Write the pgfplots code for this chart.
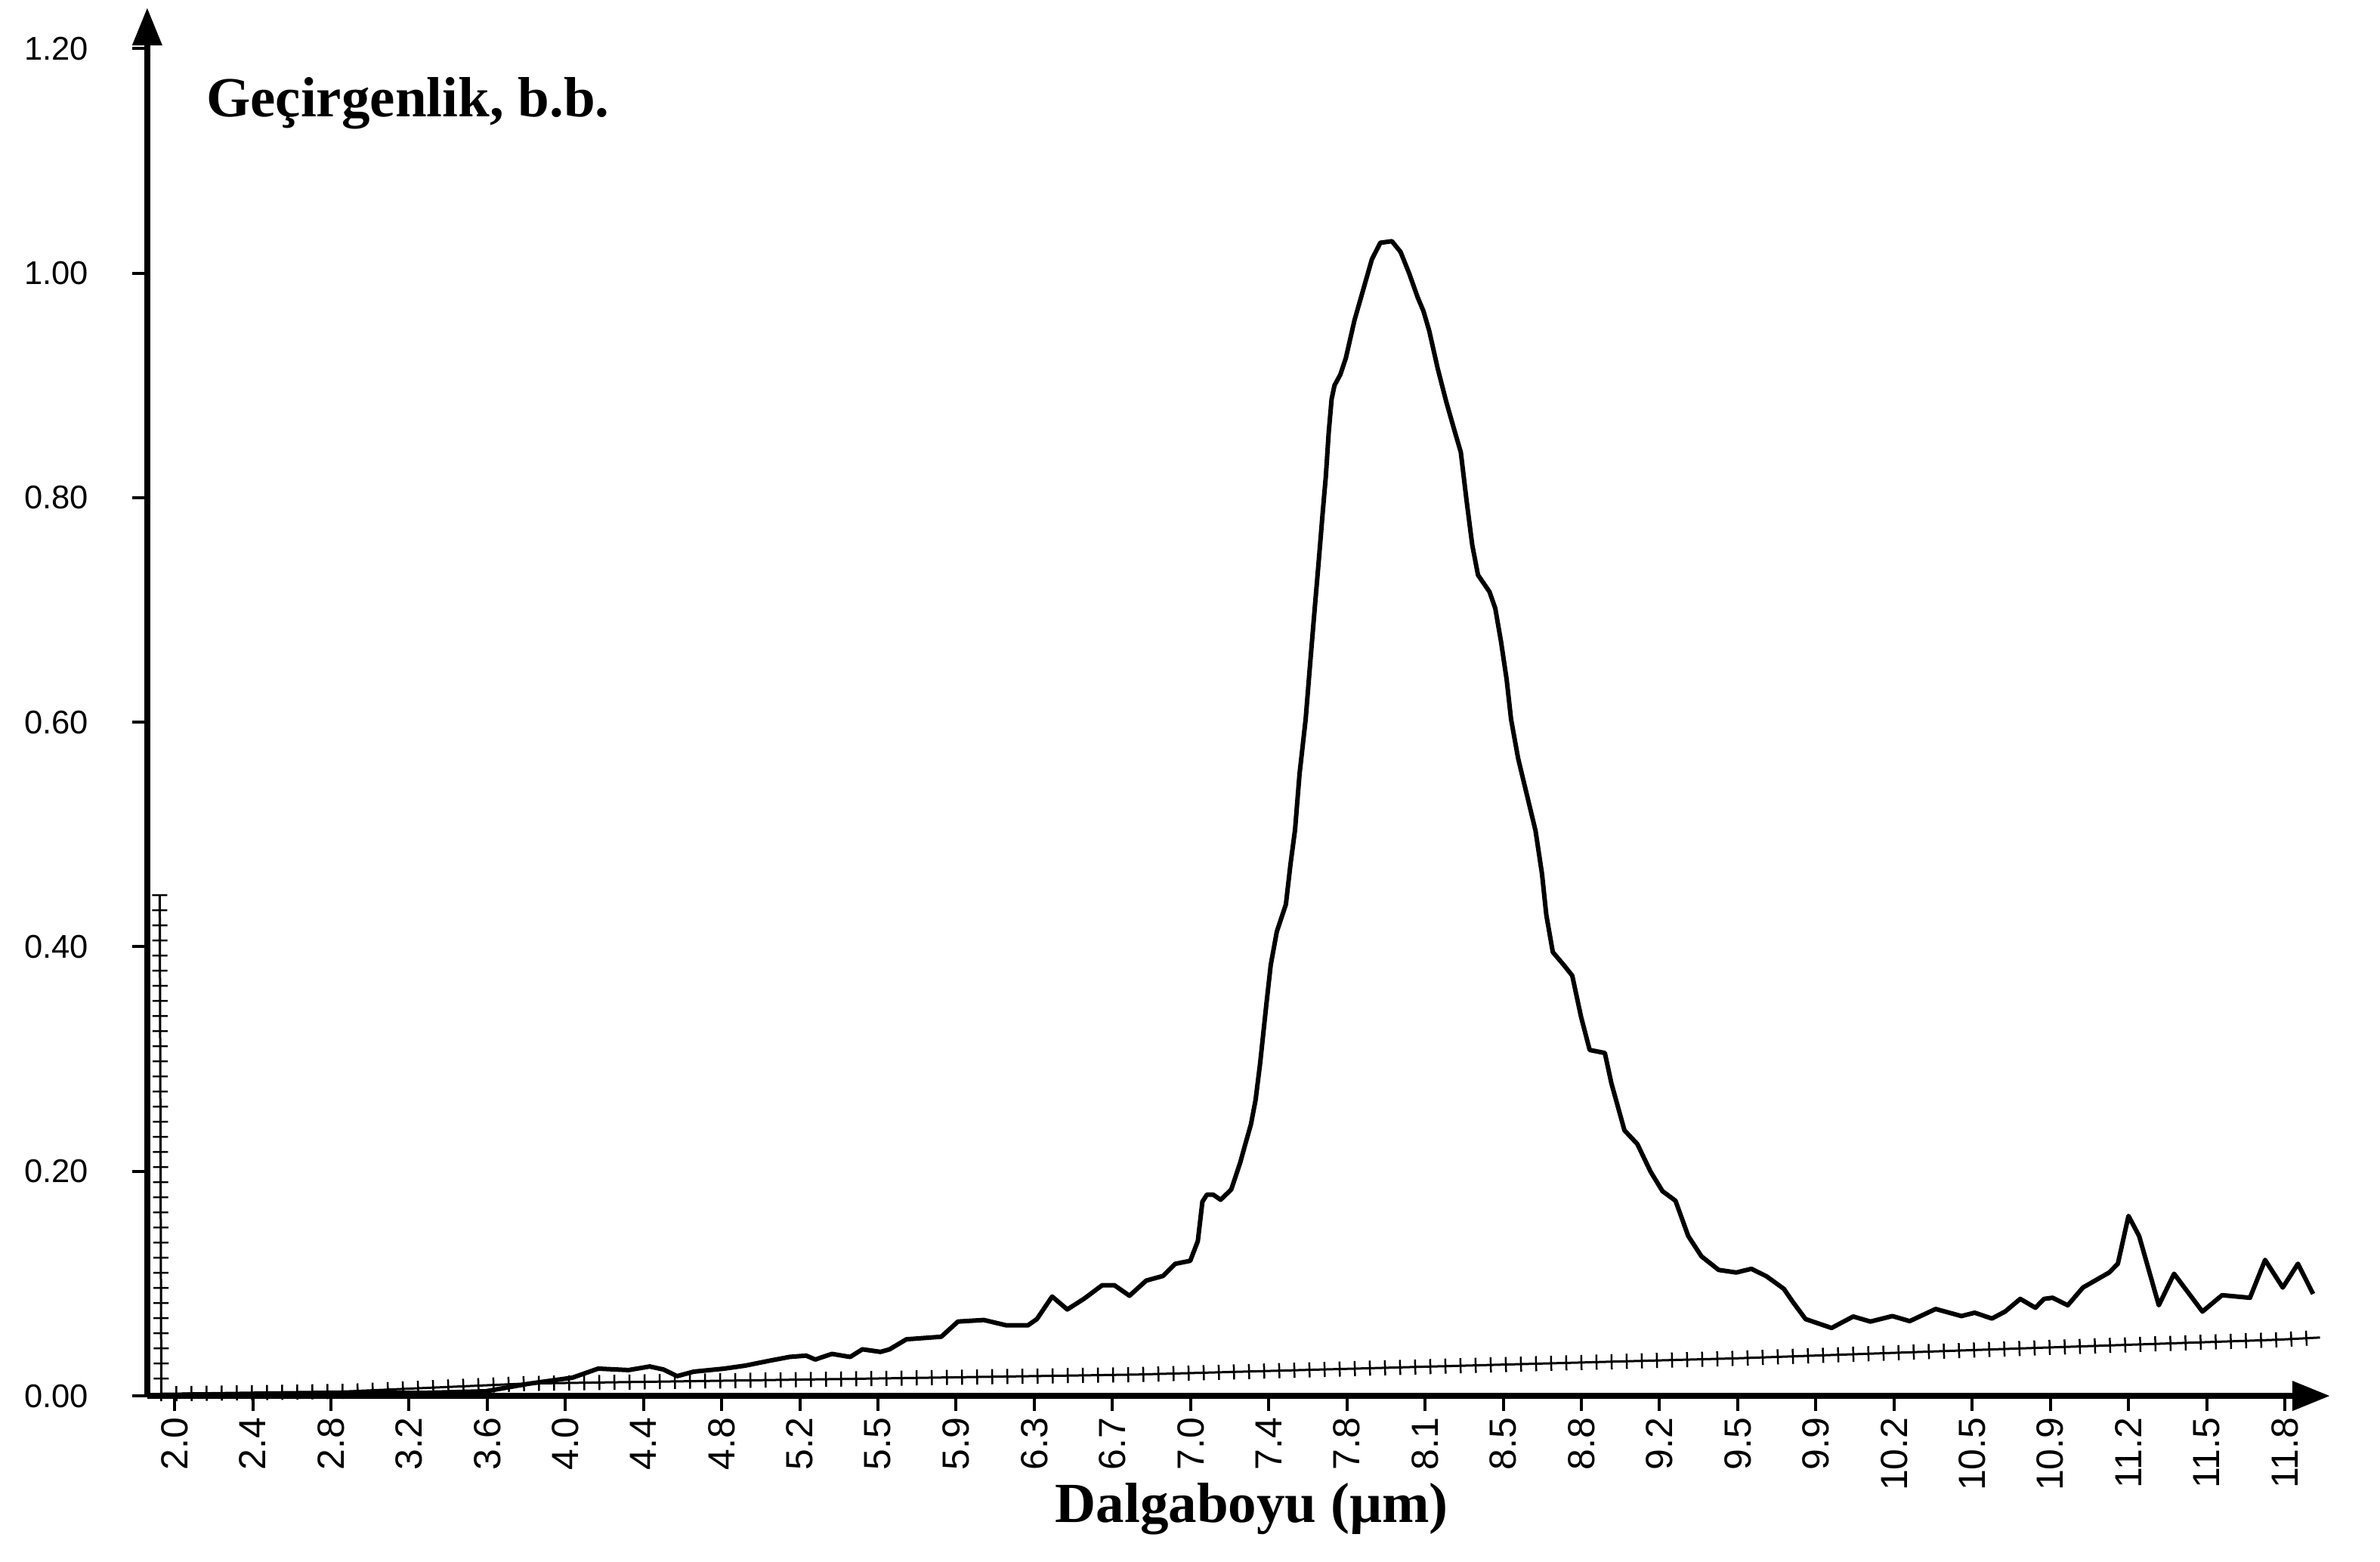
\documentclass[border=0pt]{standalone}
\usepackage{fontspec}
\setmainfont{Liberation Serif}
\newfontfamily\arialfont{Liberation Sans}
\usepackage{pgfplots}
\pgfplotsset{compat=1.18}
\usetikzlibrary{arrows.meta,decorations.pathreplacing}
\begin{document}
\begin{tikzpicture}
\path[use as bounding box] (-38.97pt,-43.8pt) rectangle (591.0pt,369.6pt);
\begin{axis}[
  at={(0,0)}, anchor=south west,
  scale only axis, width=577.8pt, height=367.6pt,
  xmin=-0.35, xmax=27.58, ymin=0, ymax=1.2365,
  axis x line=bottom, axis y line=left,
  axis line style={line width=1.7pt, -{Triangle[length=10pt,width=7.5pt]}},
  every outer x axis line/.append style={-{Triangle[length=10pt,width=7.5pt]}},
  every outer y axis line/.append style={-{Triangle[length=10pt,width=7.5pt]}},
  every inner x axis line/.append style={-{Triangle[length=10pt,width=7.5pt]}},
  every inner y axis line/.append style={-{Triangle[length=10pt,width=7.5pt]}},
  x axis line style={-{Triangle[length=10pt,width=7.5pt]}},
  y axis line style={-{Triangle[length=10pt,width=7.5pt]}},
  clip=false,
  tick align=outside,
  major tick length=4pt,
  tick style={line width=0.8pt, black},
  xtick={0,1,2,3,4,5,6,7,8,9,10,11,12,13,14,15,16,17,18,19,20,21,22,23,24,25,26,27},
  xticklabels={2.0,2.4,2.8,3.2,3.6,4.0,4.4,4.8,5.2,5.5,5.9,6.3,6.7,7.0,7.4,7.8,8.1,8.5,8.8,9.2,9.5,9.9,10.2,10.5,10.9,11.2,11.5,11.8},
  ytick={0,0.2,0.4,0.6,0.8,1.0,1.2},
  yticklabels={0.00,0.20,0.40,0.60,0.80,1.00,1.20},
  xticklabel style={font=\arialfont\fontsize{10}{12}\selectfont, rotate=90, anchor=east, inner sep=1.5pt},
  yticklabel style={font=\arialfont\fontsize{8.7}{10}\selectfont, anchor=east, xshift=-8pt},
  xlabel={\bfseries Dalgaboyu (µm)},
  xlabel style={font=\fontsize{15}{18}\selectfont, at={(axis description cs:0.506,0)}, anchor=center, yshift=-30pt},
]
% near-zero reference series with tick marks
\addplot[black, line width=0.6pt, mark=none,
  postaction={decorate, decoration={ticks, segment length=4pt, amplitude=2pt}, draw, line width=0.5pt}]
  coordinates {(-0.19,0.446) (-0.17,0.002) (0,0.002) (2.2,0.004) (4.5,0.011) (8.5,0.015) (12.3,0.019) (16,0.026) (20,0.0335) (23.5,0.042) (26.9,0.050) (27.45,0.052)};
% transmittance curve
\addplot[black, line width=1.2pt, mark=none, line join=round] coordinates {
(-0.233,0) (0.291,0.0014) (1.263,0.0014) (2.234,0.0027) (3.205,0.0027) (3.982,0.0041) (4.526,0.0108) (5.089,0.0162) (5.420,0.0243) (5.808,0.0230) (6.080,0.0262) (6.255,0.0235) (6.430,0.0176) (6.643,0.0216) (7.032,0.0243) (7.304,0.0270) (7.595,0.0311) (7.867,0.0347) (8.081,0.0359) (8.197,0.0324) (8.411,0.0374) (8.644,0.0347) (8.800,0.0415) (9.033,0.0392) (9.149,0.0415) (9.363,0.0504) (9.810,0.0527) (10.023,0.0662) (10.354,0.0676) (10.645,0.0628) (10.917,0.0628) (11.033,0.0684) (11.228,0.0885) (11.422,0.0770) (11.636,0.0865) (11.869,0.0986) (12.024,0.0986) (12.218,0.0892) (12.432,0.1027) (12.646,0.1068) (12.801,0.1176) (12.995,0.1203) (13.092,0.1378) (13.151,0.1730) (13.209,0.1793) (13.287,0.1793) (13.384,0.1747) (13.520,0.1838) (13.636,0.2081) (13.695,0.2230) (13.772,0.2419) (13.831,0.2635) (13.889,0.2959) (13.967,0.3473) (14.025,0.3838) (14.103,0.4135) (14.219,0.4378) (14.277,0.4730) (14.336,0.5041) (14.394,0.5541) (14.472,0.6027) (14.530,0.6527) (14.588,0.7014) (14.639,0.7432) (14.693,0.7892) (14.730,0.8189) (14.767,0.8581) (14.804,0.8878) (14.841,0.9000) (14.915,0.9095) (14.986,0.9243) (15.097,0.9581) (15.208,0.9851) (15.319,1.0122) (15.427,1.0270) (15.575,1.0284) (15.686,1.0189) (15.795,1.0000) (15.905,0.9784) (15.979,0.9662) (16.053,0.9486) (16.162,0.9149) (16.272,0.8851) (16.383,0.8581) (16.457,0.8405) (16.531,0.7973) (16.603,0.7581) (16.677,0.7311) (16.824,0.7162) (16.898,0.7014) (16.972,0.6716) (17.044,0.6378) (17.100,0.6027) (17.191,0.5676) (17.308,0.5338) (17.413,0.5034) (17.496,0.4649) (17.551,0.4284) (17.634,0.3953) (17.774,0.3838) (17.883,0.3743) (17.995,0.3378) (18.106,0.3081) (18.300,0.3054) (18.384,0.2784) (18.551,0.2365) (18.716,0.2243) (18.883,0.2000) (19.037,0.1824) (19.204,0.1738) (19.367,0.1424) (19.536,0.1243) (19.756,0.1122) (19.981,0.1099) (20.175,0.1132) (20.369,0.1065) (20.591,0.0953) (20.701,0.0841) (20.868,0.0684) (21.201,0.0605) (21.478,0.0707) (21.698,0.0662) (21.978,0.0711) (22.201,0.0666) (22.533,0.0774) (22.863,0.0711) (23.032,0.0741) (23.252,0.0689) (23.421,0.0751) (23.615,0.0864) (23.809,0.0785) (23.920,0.0864) (24.029,0.0874) (24.223,0.0807) (24.417,0.0965) (24.753,0.1099) (24.864,0.1177) (25.000,0.1603) (25.136,0.1424) (25.388,0.0807) (25.583,0.1088) (25.946,0.0751) (26.197,0.0897) (26.554,0.0874) (26.748,0.1211) (26.974,0.0965) (27.168,0.1177) (27.362,0.0908)
};
\node[anchor=west, font=\bfseries\fontsize{15}{18}\selectfont] at (axis description cs:0.021,0.931) {Geçirgenlik, b.b.};
\end{axis}
\end{tikzpicture}
\end{document}
